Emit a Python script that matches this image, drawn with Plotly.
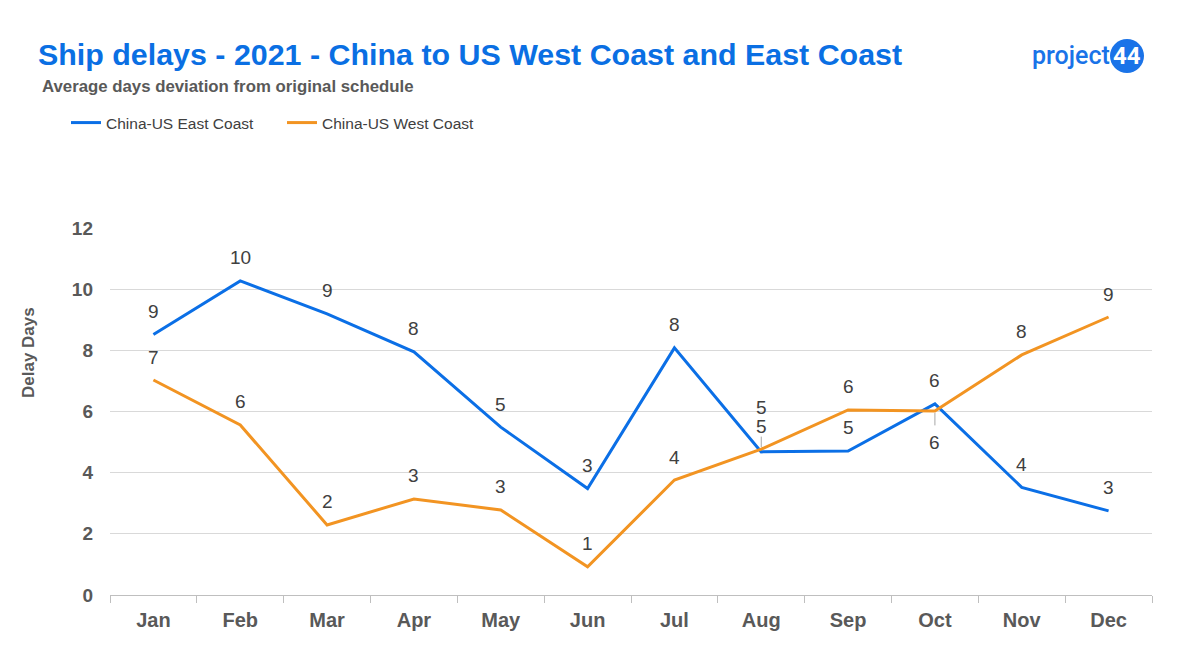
import plotly.graph_objects as go

months = ["Jan", "Feb", "Mar", "Apr", "May", "Jun", "Jul", "Aug", "Sep", "Oct", "Nov", "Dec"]
east = [8.52, 10.27, 9.19, 7.95, 5.49, 3.48, 8.08, 4.68, 4.71, 6.25, 3.52, 2.75]
west = [7.03, 5.56, 2.29, 3.14, 2.78, 0.92, 3.76, 4.77, 6.05, 6.02, 7.85, 9.09]
yticks = [0, 2, 4, 6, 8, 10, 12]

BLUE = "#0B6FE6"
ORANGE = "#F29422"
LABEL = "#404040"
FONT = "Liberation Sans, Arial"
LOGO_FONT = "Roboto, Liberation Sans"

# plot area in pixels (used to convert paper coordinates for decorations)
L, R, T, B, W, H = 110, 48, 228, 63, 1200, 658
PW, PH = W - L - R, H - T - B


def px(xp):
    return (xp - L) / PW


def py(yp):
    return (H - B - yp) / PH


x = list(range(len(months)))
fig = go.Figure()
fig.add_trace(go.Scatter(x=x, y=east, mode="lines", name="China-US East Coast",
                         line=dict(color=BLUE, width=3)))
fig.add_trace(go.Scatter(x=x, y=west, mode="lines", name="China-US West Coast",
                         line=dict(color=ORANGE, width=3)))

# data labels
east_shift = {7: 25}
west_shift = {7: 42, 9: -32}
for series, shifts in ((east, east_shift), (west, west_shift)):
    for i, v in enumerate(series):
        ys = shifts.get(i, 23)
        fig.add_annotation(x=i, y=v, text=f"{round(v):d}", showarrow=False,
                           yshift=ys, font=dict(size=19, color=LABEL, family=FONT))
# leader lines
fig.add_annotation(x=7, y=west[7], ax=0, ay=-14, text="", showarrow=True,
                   arrowhead=0, arrowwidth=1, arrowcolor="#A6A6A6", standoff=2)
fig.add_annotation(x=9, y=west[9], ax=0, ay=16, text="", showarrow=True,
                   arrowhead=0, arrowwidth=1, arrowcolor="#A6A6A6", standoff=2)

# titles
fig.add_annotation(xref="paper", yref="paper", x=px(36), y=py(54), xanchor="left", yanchor="middle",
                   text="<b>Ship delays - 2021 - China to US West Coast and East Coast</b>",
                   showarrow=False,
                   font=dict(size=30.4, color="#0A6FE3", family=FONT))
fig.add_annotation(xref="paper", yref="paper", x=px(40), y=py(86), xanchor="left", yanchor="middle",
                   text="<b>Average days deviation from original schedule</b>",
                   showarrow=False,
                   font=dict(size=16.8, color="#595959", family=FONT))

# y-axis title
fig.add_annotation(xref="paper", yref="paper", x=px(28), y=py(353), xanchor="center", yanchor="middle",
                   text="<b>Delay Days</b>", textangle=-90, showarrow=False,
                   font=dict(size=17, color="#595959", family=FONT))

# logo
fig.add_annotation(xref="paper", yref="paper", x=px(1112), y=py(55), xanchor="right", yanchor="middle",
                   text="project", showarrow=False,
                   font=dict(size=25, color="#1A73E8", family=LOGO_FONT, weight=500))
fig.add_shape(type="circle", xref="paper", yref="paper", x0=-17, x1=17, y0=-17, y1=17,
              xsizemode="pixel", ysizemode="pixel", xanchor=px(1127), yanchor=py(56),
              fillcolor="#1A73E8", line=dict(width=0), layer="above")
fig.add_annotation(xref="paper", yref="paper", x=px(1127), y=py(56), xanchor="center", yanchor="middle",
                   text="<b>44</b>", showarrow=False,
                   font=dict(size=24, color="white", family=LOGO_FONT))

fig.update_layout(
    width=W, height=H,
    margin=dict(l=L, r=R, t=T, b=B),
    paper_bgcolor="white", plot_bgcolor="white",
    font=dict(family=FONT, color="#595959"),
    showlegend=True,
    legend=dict(orientation="h", x=px(66), xanchor="left", y=py(123), yanchor="middle",
                font=dict(size=15.5, color=LABEL), itemwidth=30, entrywidthmode="pixels",
                entrywidth=171, tracegroupgap=0),
    xaxis=dict(range=[-0.5, 11.5], tickmode="array", tickvals=x, ticktext=[f"<b>{m}</b>" for m in months],
               ticks="", showgrid=False, zeroline=False, showline=True, linecolor="#BFBFBF", linewidth=1,
               tickfont=dict(size=20, color="#595959"), ticklabelstandoff=7,
               minor=dict(ticks="outside", tick0=-0.5, dtick=1, ticklen=7, tickcolor="#BFBFBF",
                          showgrid=False)),
    yaxis=dict(range=[0, 12], tickmode="array", tickvals=yticks, ticktext=[f"<b>{v}</b>" for v in yticks],
               showgrid=True, gridcolor="#D9D9D9", gridwidth=1, zeroline=False, showline=False,
               tickfont=dict(size=19, color="#595959"), ticklabelstandoff=16),
)

fig.write_html("out.html")
